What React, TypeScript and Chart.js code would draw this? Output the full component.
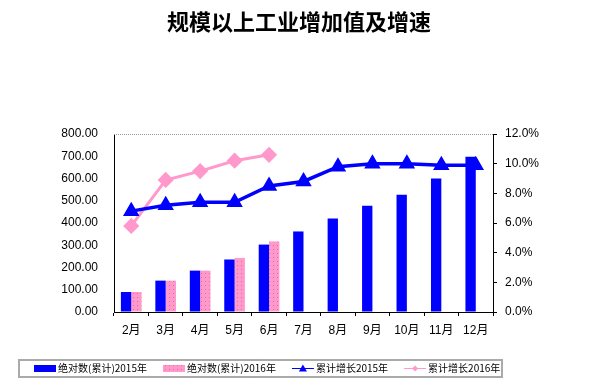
import React, { useEffect, useRef } from "react";
import { Chart, registerables } from "chart.js";

Chart.register(...registerables);

const months = ["2月", "3月", "4月", "5月", "6月", "7月", "8月", "9月", "10月", "11月", "12月"];
const abs2015 = [90, 141, 186, 236, 303, 362, 420, 477, 527, 600, 698];
const abs2016 = [90, 141, 186, 243, 317, null, null, null, null, null, null];
const growth2015 = [6.8, 7.2, 7.4, 7.4, 8.5, 8.8, 9.8, 10.0, 10.0, 9.9, 9.9];
const growth2016 = [5.8, 8.9, 9.5, 10.2, 10.6, null, null, null, null, null, null];
const seriesNames = ["绝对数(累计)2015年", "绝对数(累计)2016年", "累计增长2015年", "累计增长2016年"];

const BLUE = "#0000FF";
const PINK = "#FF99CC";
const FONT = 'Arial, "Liberation Sans", "Noto Sans CJK SC", sans-serif';

function makePattern(): CanvasPattern | string {
  const c = document.createElement("canvas");
  c.width = 4;
  c.height = 4;
  const g = c.getContext("2d");
  if (!g) return PINK;
  g.fillStyle = PINK;
  g.fillRect(0, 0, 4, 4);
  g.fillStyle = "#EE6699";
  g.fillRect(1, 1, 1, 1);
  const p = g.createPattern(c, "repeat");
  return p || PINK;
}

const legendPlugin = {
  id: "boxLegend",
  afterDraw(chart: any) {
    const ctx = chart.ctx;
    const area = chart.chartArea;
    // dotted top border of the plot area
    ctx.save();
    ctx.strokeStyle = "#999";
    ctx.lineWidth = 1;
    ctx.setLineDash([1, 1]);
    ctx.beginPath();
    ctx.moveTo(area.left, area.top + 0.5);
    ctx.lineTo(area.right, area.top + 0.5);
    ctx.stroke();
    ctx.restore();

    // legend
    const boxL = 10, boxT = 351, boxR = 494, boxB = 369;
    ctx.save();
    ctx.strokeStyle = "#555";
    ctx.lineWidth = 1;
    ctx.setLineDash([1, 1]);
    ctx.strokeRect(boxL + 0.5, boxT + 0.5, boxR - boxL, boxB - boxT);
    ctx.strokeRect(boxL + 1.5, boxT + 1.5, boxR - boxL - 2, boxB - boxT - 2);
    ctx.setLineDash([]);
    ctx.font = '10px "Noto Sans CJK SC", sans-serif';
    ctx.textBaseline = "middle";
    ctx.fillStyle = "#000";
    const cy = (boxT + boxB) / 2 + 0.5;
    let x = boxL + 16;
    chart.data.datasets.forEach((ds: any) => {
      const sw = 22;
      if (ds.type === "bar") {
        ctx.fillStyle = ds.backgroundColor;
        ctx.fillRect(x, cy - 3.5, sw, 7);
      } else {
        ctx.strokeStyle = ds.borderColor;
        ctx.lineWidth = 1;
        ctx.beginPath();
        ctx.moveTo(x, cy);
        ctx.lineTo(x + sw, cy);
        ctx.stroke();
        ctx.fillStyle = ds.borderColor;
        const mx = x + sw / 2;
        ctx.beginPath();
        if (ds.pointStyle === "triangle") {
          ctx.moveTo(mx, cy - 4);
          ctx.lineTo(mx + 4, cy + 3);
          ctx.lineTo(mx - 4, cy + 3);
        } else {
          ctx.moveTo(mx, cy - 3);
          ctx.lineTo(mx + 3, cy);
          ctx.lineTo(mx, cy + 3);
          ctx.lineTo(mx - 3, cy);
        }
        ctx.closePath();
        ctx.fill();
      }
      ctx.fillStyle = "#000";
      const tx = x + sw + 2;
      ctx.fillText(ds.label, tx, cy);
      x = tx + ctx.measureText(ds.label).width + 16;
    });
    ctx.restore();
  },
};

export default function App() {
  const ref = useRef<HTMLCanvasElement>(null);
  useEffect(() => {
    if (!ref.current) return;
    const pattern = makePattern();
    const chart = new Chart(ref.current, {
      type: "bar",
      data: {
        labels: months,
        datasets: [
          {
            type: "bar",
            label: seriesNames[0],
            data: abs2015,
            backgroundColor: BLUE,
            yAxisID: "y",
            order: 3,
            categoryPercentage: 0.6,
            barPercentage: 1.0,
          },
          {
            type: "bar",
            label: seriesNames[1],
            data: abs2016 as any,
            backgroundColor: pattern as any,
            yAxisID: "y",
            order: 4,
            categoryPercentage: 0.6,
            barPercentage: 1.0,
          },
          {
            type: "line",
            label: seriesNames[2],
            data: growth2015,
            borderColor: BLUE,
            backgroundColor: BLUE,
            borderWidth: 3.5,
            pointStyle: "triangle",
            pointRadius: 6,
            pointBackgroundColor: BLUE,
            pointBorderColor: BLUE,
            yAxisID: "y1",
            order: 1,
          },
          {
            type: "line",
            label: seriesNames[3],
            data: growth2016 as any,
            borderColor: PINK,
            backgroundColor: PINK,
            borderWidth: 3,
            pointStyle: "rectRot",
            pointRadius: 6,
            pointBackgroundColor: PINK,
            pointBorderColor: PINK,
            yAxisID: "y1",
            order: 2,
          },
        ] as any,
      },
      options: {
        responsive: false,
        animation: false,
        devicePixelRatio: 1,
        layout: { padding: { left: 0, right: 0, top: 0, bottom: 0 } },
        plugins: {
          legend: { display: false },
          tooltip: { enabled: false },
          title: {
            display: true,
            text: "规模以上工业增加值及增速",
            color: "#000",
            font: { size: 22, weight: "bold", family: '"Noto Sans CJK SC", sans-serif', lineHeight: 1.2 },
            padding: { top: 0, bottom: 99.6 },
          },
        },
        scales: {
          x: {
            offset: true,
            grid: { display: true, drawOnChartArea: false, drawTicks: true, tickLength: 4, color: "#000", offset: true },
            border: { color: "#000", width: 1 },
            ticks: { color: "#000", font: { size: 12, family: FONT }, padding: 7, maxRotation: 0 },
            afterFit: (s: any) => { s.height = 374 - 304; },
          },
          y: {
            position: "left",
            min: 0,
            max: 800,
            ticks: { stepSize: 100, color: "#000", font: { size: 12, family: FONT }, padding: 16, callback: (v: any) => Number(v).toFixed(2) },
            grid: { drawOnChartArea: false, drawTicks: false },
            border: { color: "#000", width: 1 },
            afterFit: (s: any) => { s.width = 106; },
          },
          y1: {
            position: "right",
            min: 0,
            max: 12,
            ticks: { stepSize: 2, color: "#000", font: { size: 12, family: FONT }, padding: 8, callback: (v: any) => Number(v).toFixed(1) + "%" },
            grid: { drawOnChartArea: false, drawTicks: true, tickLength: 4, color: "#000" },
            border: { color: "#000", width: 1 },
            afterFit: (s: any) => { s.width = 97; },
          },
        },
      },
      plugins: [legendPlugin],
    });
    return () => chart.destroy();
  }, []);
  return <canvas ref={ref} width={582} height={374} style={{ display: "block" }} />;
}
